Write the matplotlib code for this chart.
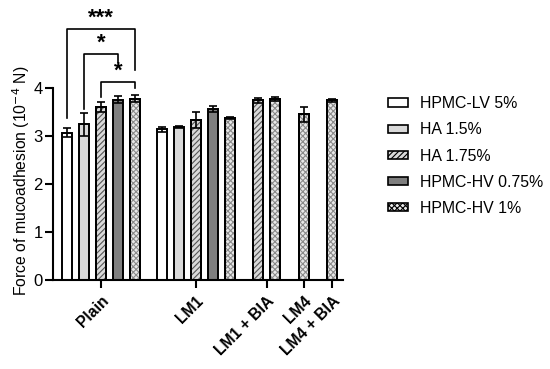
import matplotlib
matplotlib.use("Agg")
import matplotlib.pyplot as plt
import matplotlib as mpl
from matplotlib.patches import Patch

plt.rcParams['font.family'] = ['Liberation Sans', 'DejaVu Sans']
mpl.rcParams['hatch.linewidth'] = 0.8

groups = ["Plain", "LM1", "LM1 + BIA", "LM4", "LM4 + BIA"]
series = ["HPMC-LV 5%", "HA 1.5%", "HA 1.75%", "HPMC-HV 0.75%", "HPMC-HV 1%"]

# values per group (None = not measured)
plain_vals = [3.07, 3.24, 3.60, 3.76, 3.78]
plain_err = [0.10, 0.24, 0.10, 0.07, 0.08]
lm1_vals = [3.14, 3.19, 3.33, 3.56, 3.37]
lm1_err = [0.05, 0.02, 0.16, 0.06, 0.02]
lm1bia_vals = [None, None, 3.74, None, 3.77]
lm1bia_err = [None, None, 0.05, None, 0.05]
lm4_vals = [None, None, None, None, 3.45]
lm4_err = [None, None, None, None, 0.15]
lm4bia_vals = [None, None, None, None, 3.74]
lm4bia_err = [None, None, None, None, 0.04]

all_vals = [plain_vals, lm1_vals, lm1bia_vals, lm4_vals, lm4bia_vals]
all_err = [plain_err, lm1_err, lm1bia_err, lm4_err, lm4bia_err]

# layout
group_centers = [0.0, 5.6, 9.76, 11.94, 13.6]
full_offsets = [-2, -1, 0, 1, 2]

faces = ["white", "#d9d9d9", "#d9d9d9", "#7f7f7f", "#e8e8e8"]
hatches = [None, None, "//////", None, "xxxxxx"]
hatch_colors = [None, None, "#555555", None, "#8a8a8a"]

fig = plt.figure(figsize=(5.5, 3.69), dpi=100)
ax = fig.add_axes([53/550, 1 - 280/369, (343-53)/550, 280/369])

def bar_positions(gi):
    vals = all_vals[gi]
    present = [i for i, v in enumerate(vals) if v is not None]
    c = group_centers[gi]
    if len(present) == 5:
        return {i: c + full_offsets[i] for i in present}
    if len(present) == 2:
        return {present[0]: c - 0.5, present[1]: c + 0.5}
    return {present[0]: c}

xpos = {}
for gi in range(len(groups)):
    pos = bar_positions(gi)
    for si, x in pos.items():
        v = all_vals[gi][si]
        e = all_err[gi][si]
        xpos[(gi, si)] = x
        ax.bar(x, v, width=0.6, color=faces[si], edgecolor="black", linewidth=1.4, zorder=2)
        if hatches[si]:
            ax.bar(x, v, width=0.6, color="none", edgecolor=hatch_colors[si], linewidth=0,
                   hatch=hatches[si], zorder=2)
            ax.bar(x, v, width=0.6, color="none", edgecolor="black", linewidth=1.4, zorder=3)
        ax.errorbar(x, v, yerr=e, fmt="none", ecolor="black", elinewidth=1.2,
                    capsize=3.2, capthick=1.2, zorder=4)

def bracket(xa, xb, ytop, ya, yb, label, lx):
    ax.plot([xa, xa, xb, xb], [ya, ytop, ytop, yb], color="black", lw=1.2,
            clip_on=False, zorder=5)
    ax.text(lx, ytop + 0.1, label, ha="center", va="baseline", fontsize=16,
            fontweight="bold", clip_on=False)

px = lambda y: (280 - y) / 48.0
bracket(xpos[(0, 0)], xpos[(0, 4)], px(29), px(118), px(70), "***", xpos[(0, 2)])
bracket(xpos[(0, 1)], xpos[(0, 3)], px(54), px(109), px(62), "*", xpos[(0, 2)])
bracket(xpos[(0, 2)], xpos[(0, 4)], px(82), px(97), px(88), "*", xpos[(0, 3)])

ax.set_xlim(-2.82, 14.24)
ax.set_ylim(0, 280/48)
ax.spines['top'].set_visible(False)
ax.spines['right'].set_visible(False)
ax.spines['left'].set_bounds(0, 4)
ax.spines['left'].set_linewidth(1.5)
ax.spines['bottom'].set_linewidth(1.5)
ax.set_yticks([0, 1, 2, 3, 4])
ax.tick_params(axis='y', labelsize=12, width=1.5, length=6, pad=1.5)
ax.tick_params(axis='x', width=1.5, length=6)
ax.set_xticks(group_centers)
ax.set_xticklabels(groups, rotation=45, ha="right", rotation_mode="anchor",
                   fontsize=11.3, fontweight="bold")
ax.set_ylabel("Force of mucoadhesion (10$^{-4}$ N)", fontsize=11.3)
ax.yaxis.set_label_coords(-0.073, 0.355)

handles = []
for si in range(5):
    handles.append(Patch(facecolor=faces[si], edgecolor="black", linewidth=1.2,
                         hatch=hatches[si] if hatches[si] else None))
fig.legend(handles, series, loc="upper left", bbox_to_anchor=(382/550, 1 - 90/369),
           frameon=False, fontsize=11.4, handlelength=1.27, handleheight=0.45,
           labelspacing=0.7, handletextpad=0.7, borderaxespad=0)

fig.savefig("out.png", dpi=100)
